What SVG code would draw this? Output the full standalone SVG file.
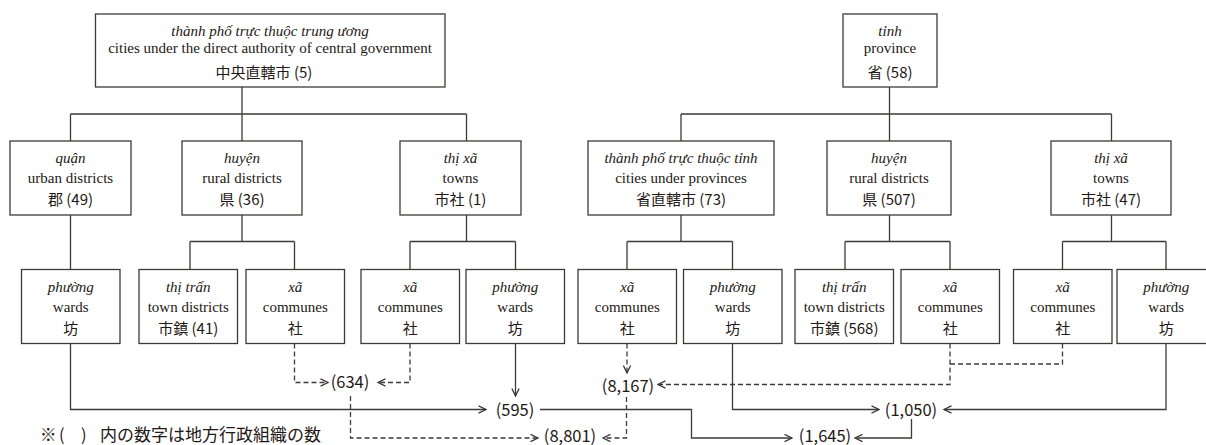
<svg xmlns="http://www.w3.org/2000/svg" width="1206" height="445" viewBox="0 0 1206 445">
<style>
.box{fill:#fff;stroke:#3e3a39;stroke-width:1.3}
.ln{fill:none;stroke:#3e3a39;stroke-width:1.3}
.dash{fill:none;stroke:#3e3a39;stroke-width:1.3;stroke-dasharray:5 3}
.it{font-family:"Liberation Serif","DejaVu Serif",serif;font-style:italic;font-size:15px;fill:#231815;text-anchor:middle}
.en{font-family:"Liberation Serif","DejaVu Serif",serif;font-size:15px;fill:#231815;text-anchor:middle}
.jp{font-family:"Noto Sans CJK JP","Noto Sans",sans-serif;font-size:15px;fill:#231815;text-anchor:middle}
.num{font-family:"Noto Sans CJK JP","Noto Sans",sans-serif;font-size:16.5px;fill:#231815;text-anchor:middle}
.note{font-family:"Noto Sans CJK JP","Noto Sans",sans-serif;font-size:16.5px;fill:#231815}
</style>
<defs>
<marker id="ar" viewBox="0 0 10 10" refX="9.3" refY="5" markerWidth="9" markerHeight="9" markerUnits="userSpaceOnUse" orient="auto">
<path d="M1,1 L9.3,5 L1,9" fill="none" stroke="#3e3a39" stroke-width="1.5" stroke-dasharray="none"/>
</marker>
</defs>
<rect width="1206" height="445" fill="#fff"/>

<g id="connectors">
<path class="ln" d="M242 87 V114 M70.5 114 H466.5 M70.5 114 V141 M242 114 V141 M466.5 114 V141"/>
<path class="ln" d="M889.5 87 V114 M681 114 H1111.5 M681 114 V141 M889.5 114 V141 M1111.5 114 V141"/>
<path class="ln" d="M70.5 215 V269.5"/>
<path class="ln" d="M242 215 V241.5 M190 241.5 H294.5 M190 241.5 V269.5 M294.5 241.5 V269.5"/>
<path class="ln" d="M466.5 215 V241.5 M410 241.5 H515.5 M410 241.5 V269.5 M515.5 241.5 V269.5"/>
<path class="ln" d="M681 215 V241.5 M627 241.5 H732.5 M627 241.5 V269.5 M732.5 241.5 V269.5"/>
<path class="ln" d="M889.5 215 V241.5 M845 241.5 H950 M845 241.5 V269.5 M950 241.5 V269.5"/>
<path class="ln" d="M1111.5 215 V241.5 M1062.5 241.5 H1166 M1062.5 241.5 V269.5 M1166 241.5 V269.5"/>
<path class="ln" d="M70.5 343.5 V409.5 H486" marker-end="url(#ar)"/>
<path class="ln" d="M515.5 343.5 V396" marker-end="url(#ar)"/>
<path class="ln" d="M540 409.5 H691.5 V438 H792" marker-end="url(#ar)"/>
<path class="ln" d="M732.5 343.5 V409.5 H879" marker-end="url(#ar)"/>
<path class="ln" d="M1166 343.5 V409.5 H944" marker-end="url(#ar)"/>
<path class="ln" d="M911.5 419 V438 H855" marker-end="url(#ar)"/>
<path class="dash" d="M294.5 343.5 V382.5 H328" marker-end="url(#ar)"/>
<path class="dash" d="M410 343.5 V382.5 H378" marker-end="url(#ar)"/>
<path class="dash" d="M350.5 396 V438 H538" marker-end="url(#ar)"/>
<path class="dash" d="M626.5 397 V438 H603" marker-end="url(#ar)"/>
<path class="dash" d="M627 343.5 V373" marker-end="url(#ar)"/>
<path class="dash" d="M950 343.5 V384.5 H658" marker-end="url(#ar)"/>
<path class="dash" d="M1062.5 343.5 V364 H950"/>
</g>

<g id="n-central">
<rect class="box" x="95.5" y="14" width="349.5" height="73"/>
<text class="it" x="270" y="35.5">thành phố trực thuộc trung ương</text>
<text class="en" x="270" y="53">cities under the direct authority of central government</text>
<text class="jp" x="264" y="77.5">中央直轄市 (5)</text>
</g>
<g id="n-province">
<rect class="box" x="843" y="14" width="94" height="73"/>
<text class="it" x="890" y="35.5">tỉnh</text>
<text class="en" x="890" y="53">province</text>
<text class="jp" x="890" y="77.5">省 (58)</text>
</g>

<g id="n-quan">
<rect class="box" x="10" y="141" width="121" height="74"/>
<text class="it" x="70.5" y="163">quận</text>
<text class="en" x="70.5" y="182.5">urban districts</text>
<text class="jp" x="70.5" y="204.5">郡 (49)</text>
</g>
<g id="n-huyen1">
<rect class="box" x="182" y="141" width="120" height="74"/>
<text class="it" x="242" y="163">huyện</text>
<text class="en" x="242" y="182.5">rural districts</text>
<text class="jp" x="242" y="204.5">県 (36)</text>
</g>
<g id="n-thixa1">
<rect class="box" x="400" y="141" width="121" height="74"/>
<text class="it" x="460.5" y="163">thị xã</text>
<text class="en" x="460.5" y="182.5">towns</text>
<text class="jp" x="460.5" y="204.5">市社 (1)</text>
</g>
<g id="n-tptinh">
<rect class="box" x="588" y="141" width="186" height="74"/>
<text class="it" x="681" y="163">thành phố trực thuộc tỉnh</text>
<text class="en" x="681" y="182.5">cities under provinces</text>
<text class="jp" x="681" y="204.5">省直轄市 (73)</text>
</g>
<g id="n-huyen2">
<rect class="box" x="827" y="141" width="124" height="74"/>
<text class="it" x="889" y="163">huyện</text>
<text class="en" x="889" y="182.5">rural districts</text>
<text class="jp" x="889" y="204.5">県 (507)</text>
</g>
<g id="n-thixa2">
<rect class="box" x="1051" y="141" width="120" height="74"/>
<text class="it" x="1111" y="163">thị xã</text>
<text class="en" x="1111" y="182.5">towns</text>
<text class="jp" x="1111" y="204.5">市社 (47)</text>
</g>

<g id="n-phuong1">
<rect class="box" x="21.5" y="269.5" width="98.5" height="74"/>
<text class="it" x="70.75" y="292">phường</text>
<text class="en" x="70.75" y="311.5">wards</text>
<text class="jp" x="70.75" y="334">坊</text>
</g>
<g id="n-thitran1">
<rect class="box" x="139" y="269.5" width="98.5" height="74"/>
<text class="it" x="188.25" y="292">thị trấn</text>
<text class="en" x="188.25" y="311.5">town districts</text>
<text class="jp" x="188.25" y="334">市鎮 (41)</text>
</g>
<g id="n-xa1">
<rect class="box" x="246" y="269.5" width="98.5" height="74"/>
<text class="it" x="295.25" y="292">xã</text>
<text class="en" x="295.25" y="311.5">communes</text>
<text class="jp" x="295.25" y="334">社</text>
</g>
<g id="n-xa2">
<rect class="box" x="361" y="269.5" width="98.5" height="74"/>
<text class="it" x="410.25" y="292">xã</text>
<text class="en" x="410.25" y="311.5">communes</text>
<text class="jp" x="410.25" y="334">社</text>
</g>
<g id="n-phuong2">
<rect class="box" x="466" y="269.5" width="98.5" height="74"/>
<text class="it" x="515.25" y="292">phường</text>
<text class="en" x="515.25" y="311.5">wards</text>
<text class="jp" x="515.25" y="334">坊</text>
</g>
<g id="n-xa3">
<rect class="box" x="578" y="269.5" width="98.5" height="74"/>
<text class="it" x="627.25" y="292">xã</text>
<text class="en" x="627.25" y="311.5">communes</text>
<text class="jp" x="627.25" y="334">社</text>
</g>
<g id="n-phuong3">
<rect class="box" x="683.5" y="269.5" width="98.5" height="74"/>
<text class="it" x="732.75" y="292">phường</text>
<text class="en" x="732.75" y="311.5">wards</text>
<text class="jp" x="732.75" y="334">坊</text>
</g>
<g id="n-thitran2">
<rect class="box" x="795" y="269.5" width="98.5" height="74"/>
<text class="it" x="844.25" y="292">thị trấn</text>
<text class="en" x="844.25" y="311.5">town districts</text>
<text class="jp" x="844.25" y="334">市鎮 (568)</text>
</g>
<g id="n-xa4">
<rect class="box" x="901" y="269.5" width="98.5" height="74"/>
<text class="it" x="950.25" y="292">xã</text>
<text class="en" x="950.25" y="311.5">communes</text>
<text class="jp" x="950.25" y="334">社</text>
</g>
<g id="n-xa5">
<rect class="box" x="1013.5" y="269.5" width="98.5" height="74"/>
<text class="it" x="1062.75" y="292">xã</text>
<text class="en" x="1062.75" y="311.5">communes</text>
<text class="jp" x="1062.75" y="334">社</text>
</g>
<g id="n-phuong4">
<rect class="box" x="1117" y="269.5" width="98.5" height="74"/>
<text class="it" x="1166.25" y="292">phường</text>
<text class="en" x="1166.25" y="311.5">wards</text>
<text class="jp" x="1166.25" y="334">坊</text>
</g>

<g id="totals">
<text class="num" x="350" y="388">(634)</text>
<text class="num" x="515" y="415.5">(595)</text>
<text class="num" x="628" y="392">(8,167)</text>
<text class="num" x="570" y="441.5">(8,801)</text>
<text class="num" x="911" y="415.5">(1,050)</text>
<text class="num" x="825" y="441.5">(1,645)</text>
</g>

<g id="note">
<text class="note" y="440.5"><tspan x="40">※</tspan><tspan x="59">(</tspan><tspan x="81">)</tspan><tspan x="100" font-size="17">内の数字は地方行政組織の数</tspan></text>
</g>
</svg>
